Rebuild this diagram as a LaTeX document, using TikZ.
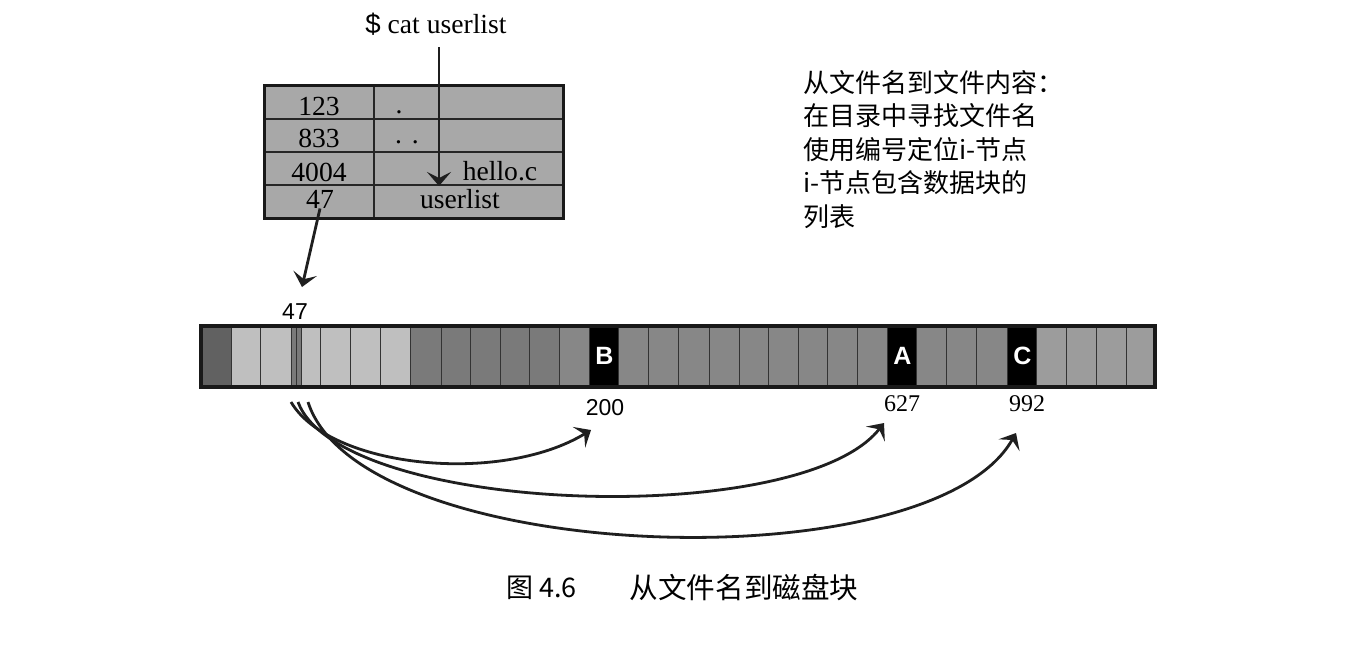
\documentclass[tikz,border=0pt]{standalone}
\usepackage{fontspec}
\setmainfont{Liberation Serif}
\newfontfamily\cjk{Noto Sans CJK SC}
\newfontfamily\arial{Liberation Sans}
\usetikzlibrary{arrows.meta}
\definecolor{tabfill}{gray}{0.66}
\definecolor{dk}{gray}{0.38}
\definecolor{lt}{gray}{0.75}
\definecolor{md}{gray}{0.48}
\definecolor{mm}{gray}{0.53}
\definecolor{rl}{gray}{0.61}
\definecolor{ink}{gray}{0.12}
\begin{document}
\begin{tikzpicture}[x=0.5pt,y=-0.5pt,
  tabtext/.style={inner sep=0pt,font=\fontsize{13.8}{16}\selectfont},
  cjktext/.style={inner sep=0pt,anchor=base west,font=\cjk\fontsize{13}{16}\selectfont},
  letter/.style={inner sep=0pt,text=white,font=\arial\bfseries\fontsize{12.5}{15}\selectfont},
  sanslab/.style={inner sep=0pt,font=\arial\fontsize{11.5}{13}\selectfont},
  seriflab/.style={inner sep=0pt,font=\fontsize{12}{13}\selectfont},
  arr/.style={draw=ink,line width=1.4pt,-{Stealth[length=7pt,width=12pt,inset=3pt]}},
  cellline/.style={draw=black!80,line width=0.7pt}]
\useasboundingbox (0,0) rectangle (1348,660);
\fill[white] (0,0) rectangle (1348,660);
% command
\node[tabtext,anchor=base] (cmd) at (436,33) {{\arial\$} cat userlist};
% directory table
\fill[tabfill] (264,85) rectangle (563,218);
\draw[line width=1pt,black!85] (264,119) -- (563,119) (264,152) -- (563,152) (264,185) -- (563,185) (374,85) -- (374,218);
\draw[line width=1.5pt,black!90] (264,85) rectangle (563,218);
\node[tabtext] (n123) at (319,106) {123};
\node[tabtext] (n833) at (319,138) {833};
\node[tabtext] (n4004) at (319,172) {4004};
\node[tabtext] (n47) at (320,199) {47};
\node[tabtext,anchor=base] (dot1) at (399,113) {.};
\node[tabtext,anchor=base] (dot2) at (407,143) {.\hspace{5pt}.};
\node[tabtext] (hello) at (500,171.5) {hello.c};
\node[tabtext] (ulist) at (460,199) {userlist};
\coordinate (ctop) at (439,47);
\coordinate (ctip) at (439,186);
\draw[arr] (ctop) -- (ctip);
\coordinate (p47) at (302,287);
\draw[arr] (n47.south) -- (p47);
% right text
\node[cjktext] (t1) at (803,92) {从文件名到文件内容：};
\node[cjktext] (t2) at (803,125.5) {在目录中寻找文件名};
\node[cjktext] (t3) at (803,159) {使用编号定位i-节点};
\node[cjktext] (t4) at (803,192.5) {i-节点包含数据块的};
\node[cjktext] (t5) at (803,226) {列表};
% disk bar
\foreach \a/\b/\c in {201/232/dk,232/261/lt,261/292/lt,292/297/md,297/302/md,302/321/lt,321/351/lt,351/381/lt,381/411/lt,
  411/442/md,442/471/md,471/501/md,501/530/md,530/560/md,560/590/mm,590/619/black,
  619/649/mm,649/679/mm,679/710/mm,710/740/mm,740/769/mm,769/799/mm,799/828/mm,828/858/mm,858/888/mm,888/917/black,
  917/947/mm,947/977/mm,977/1008/mm,1008/1037/black,1037/1067/rl,1067/1097/rl,1097/1127/rl,1127/1155/rl}{
  \fill[\c] (\a,326) rectangle (\b,387);
  \draw[cellline] (\b,326) -- (\b,387);
}
\draw[line width=1.6pt,black!90] (201,326) rectangle (1155,387);
\node[letter] (B) at (604.5,356) {B};
\node[letter] (A) at (902.5,356) {A};
\node[letter] (C) at (1022.5,356) {C};
\node[sanslab] (l47) at (295,312) {47};
\node[sanslab] (l200) at (605,408) {200};
\node[seriflab] (l627) at (902,404) {627};
\node[seriflab] (l992) at (1027,404) {992};
% curves
\coordinate (s1) at (291,402);
\coordinate (s2) at (298,402);
\coordinate (s3) at (308,402);
\coordinate (e1) at (591,430);
\coordinate (e2) at (884,423);
\coordinate (e3) at (1016,433);
\draw[arr] (s1) .. controls (330,468) and (500,485) .. (e1);
\draw[arr] (s2) .. controls (340,515) and (800,530) .. (e2);
\draw[arr] (s3) .. controls (360,565) and (930,585) .. (e3);
% caption
\node[inner sep=0pt,font=\cjk\fontsize{13.5}{16}\selectfont] (cap1) at (520,588) {图};
\node[inner sep=0pt,font=\cjk\fontsize{13.5}{16}\selectfont] (cap2) at (558,588) {4.6};
\node[inner sep=0pt,font=\cjk\fontsize{14.3}{16}\selectfont] (cap3) at (744,588) {从文件名到磁盘块};
\end{tikzpicture}
\end{document}
